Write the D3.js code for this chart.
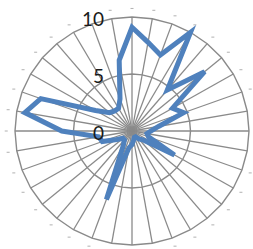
<!DOCTYPE html>
<html>
<head>
<meta charset="utf-8">
<script src="https://cdnjs.cloudflare.com/ajax/libs/d3/7.8.5/d3.min.js"></script>
<style>
  body { margin: 0; background: #fff; }
  svg { display: block; }
</style>
</head>
<body>
<svg width="253" height="249"></svg>
<script>
// 36 categories, clockwise from the top
var categories = d3.range(1, 37);
var values = [9.1, 7.9, 7.1, 10, 4.7, 8.1, 4.0, 4.7, 2.3, 1.6, 1.3, 1.5,
              4.2, 1.2, 0.9, 0.6, 0.6, 0.8, 1.2, 1.5, 6.4, 1.5, 1.0, 1.0,
              1.5, 2.7, 2.9, 6.0, 9.3, 8.3, 3.6, 2.5, 2.3, 2.3, 3.0, 6.3];
var gridValues = [5, 10];
var tickLabels = ["0", "5", "10"];

var svg = d3.select("svg");
var cx = 132, cy = 131;

var rX = d3.scaleLinear().domain([0, 10]).range([0, 117]);
var rY = d3.scaleLinear().domain([0, 10]).range([0, 114]);
var angle = d3.scaleLinear().domain([0, categories.length]).range([0, 2 * Math.PI]);

function px(i, v){ return cx + rX(v) * Math.sin(angle(i)); }
function py(i, v){ return cy - rY(v) * Math.cos(angle(i)); }

var g = svg.append("g");

// spokes
g.selectAll(".spoke")
    .data(categories)
    .enter().append("line")
    .attr("class", "spoke")
    .attr("x1", cx).attr("y1", cy)
    .attr("x2", function(d, i){ return px(i, 10); })
    .attr("y2", function(d, i){ return py(i, 10); })
    .attr("stroke", "#8a8a8a")
    .attr("stroke-width", 1.3);

// polygon gridlines
var ring = d3.line().x(function(d){ return d[0]; }).y(function(d){ return d[1]; }).curve(d3.curveLinearClosed);
g.selectAll(".ring")
    .data(gridValues)
    .enter().append("path")
    .attr("class", "ring")
    .attr("d", function(v){ return ring(categories.map(function(c, i){ return [px(i, v), py(i, v)]; })); })
    .attr("fill", "none")
    .attr("stroke", "#8a8a8a")
    .attr("stroke-width", 1.4);

// tiny category labels, shown as dashes
g.selectAll(".cat")
    .data(categories)
    .enter().append("line")
    .attr("class", "cat")
    .attr("x1", function(d, i){ return px(i, 10.75) - 1.5; })
    .attr("x2", function(d, i){ return px(i, 10.75) + 1.5; })
    .attr("y1", function(d, i){ return py(i, 10.75); })
    .attr("y2", function(d, i){ return py(i, 10.75); })
    .attr("stroke", "#b0b0b0")
    .attr("stroke-width", 1);

// data series
var line = d3.line()
    .x(function(d, i){ return px(i, d); })
    .y(function(d, i){ return py(i, d); })
    .curve(d3.curveLinearClosed);

g.append("path")
    .datum(values)
    .attr("d", line)
    .attr("fill", "none")
    .attr("stroke", "#4f81bd")
    .attr("stroke-width", 5)
    .attr("stroke-linejoin", "miter");

// value axis labels
g.selectAll(".tick")
    .data(tickLabels)
    .enter().append("text")
    .attr("class", "tick")
    .attr("x", 104)
    .attr("y", function(d){ return cy + 2 - rY(+d); })
    .attr("dy", "0.36em")
    .attr("text-anchor", "end")
    .attr("font-family", "Lato, 'Open Sans', sans-serif")
    .attr("font-size", 19)
    .attr("fill", "#1a1a1a")
    .text(function(d){ return d; });
</script>
</body>
</html>
